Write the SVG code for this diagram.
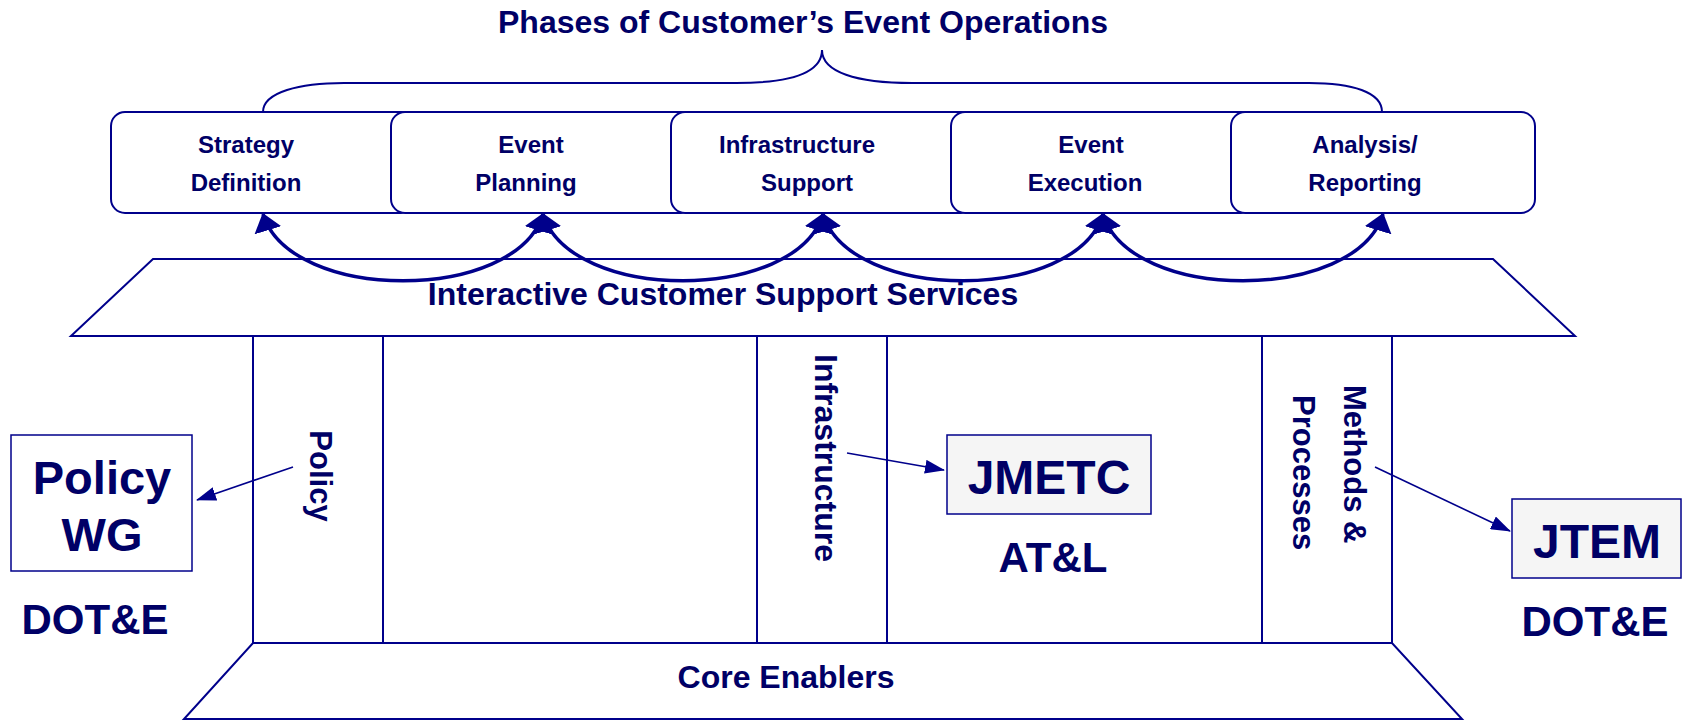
<svg xmlns="http://www.w3.org/2000/svg" width="1684" height="721" viewBox="0 0 1684 721">
<style>
  .ln{fill:none;stroke:#00008B;stroke-width:2}
  .bx{fill:#fff;stroke:#00008B;stroke-width:2}
  .gb{fill:#F5F5F5;stroke:#00008B;stroke-width:1.5}
  .wb{fill:#fff;stroke:#00008B;stroke-width:1.5}
  .t{font-family:"Liberation Sans",Arial,sans-serif;font-weight:bold;fill:#000066;text-anchor:middle}
  .ts{font-family:"Liberation Sans",Arial,sans-serif;font-weight:bold;fill:#000066}
  .arc{fill:none;stroke:#00008B;stroke-width:3.5;marker-start:url(#bh);marker-end:url(#bh)}
  .thin{fill:none;stroke:#00008B;stroke-width:1.6;marker-end:url(#sh)}
</style>
<defs>
  <marker id="bh" markerUnits="userSpaceOnUse" viewBox="0 0 18 28" markerWidth="18" markerHeight="28" refX="17" refY="14" orient="auto-start-reverse">
    <path d="M0,0 L18,14 L0,28 z" fill="#00008B"/>
  </marker>
  <marker id="sh" markerUnits="userSpaceOnUse" viewBox="0 0 20 14" markerWidth="20" markerHeight="14" refX="19" refY="7" orient="auto">
    <path d="M0,0 L20,7 L0,14 z" fill="#00008B"/>
  </marker>
</defs>
<rect width="1684" height="721" fill="#fff"/>

<g id="title">
  <text class="t" x="803" y="33" font-size="32">Phases of Customer’s Event Operations</text>
  <path class="ln" d="M263,112 C263,92 300,83 344,83 L736,83 C792,83 822,72 822,50 C822,72 856,83 912,83 L1309,83 C1352,83 1382,92 1382,112"/>
</g>

<g id="phase-strategy">
  <rect class="bx" x="111" y="112" width="304" height="101" rx="14"/>
  <text class="t" x="246" y="153" font-size="24">Strategy</text>
  <text class="t" x="246" y="191" font-size="24">Definition</text>
</g>
<g id="phase-planning">
  <rect class="bx" x="391" y="112" width="304" height="101" rx="14"/>
  <text class="t" x="531" y="153" font-size="24">Event</text>
  <text class="t" x="526" y="191" font-size="24">Planning</text>
</g>
<g id="phase-infrastructure">
  <rect class="bx" x="671" y="112" width="304" height="101" rx="14"/>
  <text class="t" x="797" y="153" font-size="24">Infrastructure</text>
  <text class="t" x="807" y="191" font-size="24">Support</text>
</g>
<g id="phase-execution">
  <rect class="bx" x="951" y="112" width="304" height="101" rx="14"/>
  <text class="t" x="1091" y="153" font-size="24">Event</text>
  <text class="t" x="1085" y="191" font-size="24">Execution</text>
</g>
<g id="phase-analysis">
  <rect class="bx" x="1231" y="112" width="304" height="101" rx="14"/>
  <text class="t" x="1365" y="153" font-size="24">Analysis/</text>
  <text class="t" x="1365" y="191" font-size="24">Reporting</text>
</g>

<g id="support-services">
  <polygon class="bx" points="153,259 1493,259 1575,336 71,336"/>
  <text class="t" x="723" y="305" font-size="32">Interactive Customer Support Services</text>
</g>

<g id="pillars">
  <line class="ln" x1="253" y1="336" x2="253" y2="643"/>
  <line class="ln" x1="383" y1="336" x2="383" y2="643"/>
  <line class="ln" x1="757" y1="336" x2="757" y2="643"/>
  <line class="ln" x1="887" y1="336" x2="887" y2="643"/>
  <line class="ln" x1="1262" y1="336" x2="1262" y2="643"/>
  <line class="ln" x1="1392" y1="336" x2="1392" y2="643"/>
</g>
<g id="pillar-policy">
  <text class="t" font-size="31" transform="translate(310,476) rotate(90)">Policy</text>
</g>
<g id="pillar-infrastructure">
  <text class="t" font-size="32" transform="translate(815,458) rotate(90)">Infrastructure</text>
</g>
<g id="pillar-methods">
  <text class="ts" font-size="31" transform="translate(1344,385) rotate(90)">Methods &amp;</text>
  <text class="ts" font-size="31" transform="translate(1293,395) rotate(90)">Processes</text>
</g>

<g id="core-enablers">
  <polygon class="bx" points="253,643 1392,643 1462,719 184,719"/>
  <text class="t" x="786" y="688" font-size="32">Core Enablers</text>
</g>

<g id="policy-wg">
  <rect class="wb" x="11" y="435" width="181" height="136"/>
  <text class="t" x="102" y="494" font-size="47">Policy</text>
  <text class="t" x="102" y="551" font-size="47">WG</text>
  <text class="t" x="95" y="634" font-size="42">DOT&amp;E</text>
</g>
<g id="jmetc">
  <rect class="gb" x="947" y="435" width="204" height="79"/>
  <text class="t" x="1049" y="494" font-size="48">JMETC</text>
  <text class="t" x="1053" y="572" font-size="42">AT&amp;L</text>
</g>
<g id="jtem">
  <rect class="gb" x="1512" y="499" width="169" height="79"/>
  <text class="t" x="1597" y="558" font-size="48">JTEM</text>
  <text class="t" x="1595" y="636" font-size="42">DOT&amp;E</text>
</g>

<g id="connectors">
  <path class="arc" d="M263,214 C290,303 516,303 543,214"/>
  <path class="arc" d="M543,214 C570,303 796,303 823,214"/>
  <path class="arc" d="M823,214 C850,303 1076,303 1103,214"/>
  <path class="arc" d="M1103,214 C1130,303 1356,303 1383,214"/>
  <line class="thin" x1="293" y1="467" x2="197" y2="500"/>
  <line class="thin" x1="847" y1="453" x2="944" y2="470"/>
  <line class="thin" x1="1375" y1="467" x2="1510" y2="531"/>
</g>
</svg>
